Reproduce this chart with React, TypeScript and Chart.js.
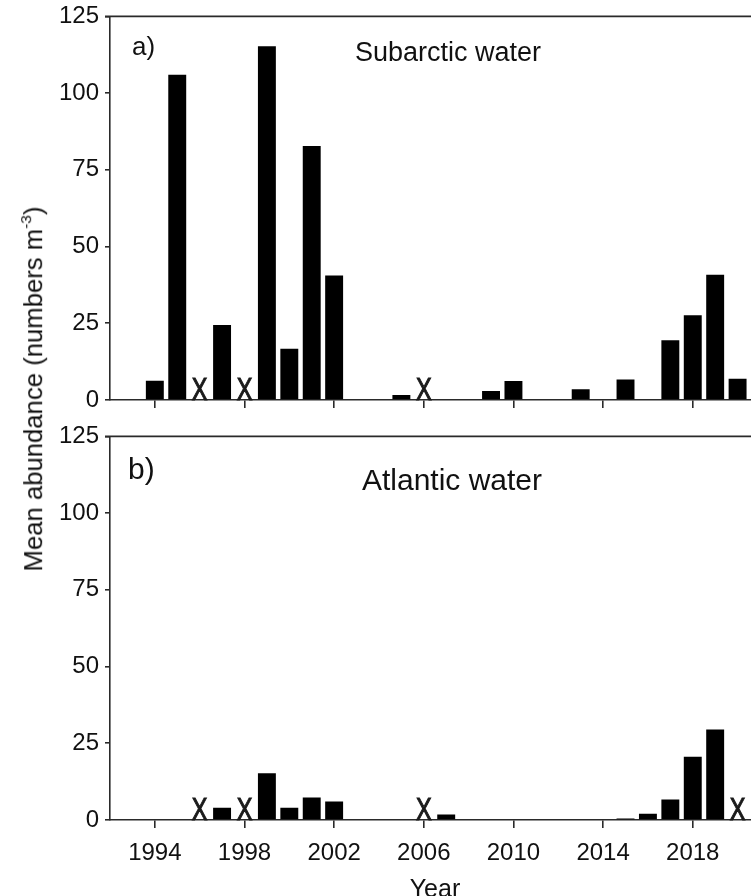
import React, { useEffect, useRef } from 'react';
import { Chart, registerables } from 'chart.js';

Chart.register(...registerables);

// ---- data ----
const YEAR_MIN = 1992;
const YEAR_MAX = 2021;
const X_TICKS = [1994, 1998, 2002, 2006, 2010, 2014, 2018];
const Y_TICKS = [0, 25, 50, 75, 100, 125];

const subarcticYears = [1994, 1995, 1997, 1999, 2000, 2001, 2002, 2005, 2009, 2010, 2013, 2015, 2017, 2018, 2019, 2020];
const subarcticValues = [6.3, 106, 24.4, 115.3, 16.7, 82.8, 40.6, 1.6, 2.9, 6.2, 3.5, 6.7, 19.5, 27.6, 40.8, 6.9];
const subarcticNotSampled = [1996, 1998, 2006];

const atlanticYears = [1997, 1999, 2000, 2001, 2002, 2007, 2015, 2016, 2017, 2018, 2019];
const atlanticValues = [4.0, 15.2, 4.0, 7.3, 6.0, 1.8, 0.5, 2.0, 6.7, 20.6, 29.5];
const atlanticNotSampled = [1996, 1998, 2006, 2020];

// ---- style ----
const FONT = "'Liberation Sans', Arial, Helvetica, sans-serif";
const AXIS = '#2a2a2a';
const TEXT = '#111111';

Chart.defaults.font.family = FONT;
Chart.defaults.color = TEXT;

// Frame top/right edge, panel letter, panel title and "X" for years without sampling
const panelDecor = {
  id: 'panelDecor',
  afterDatasetsDraw(chart: any, _args: any, opts: any) {
    const { ctx, chartArea, scales } = chart;
    const { left, right, top } = chartArea;
    const y0 = scales.y.getPixelForValue(0);
    ctx.save();
    ctx.strokeStyle = AXIS;
    ctx.lineWidth = 1.6;
    ctx.beginPath();
    ctx.moveTo(left - 5, top);
    ctx.lineTo(right, top);
    ctx.lineTo(right, y0);
    ctx.stroke();

    ctx.fillStyle = TEXT;
    ctx.textBaseline = 'alphabetic';
    ctx.textAlign = 'left';
    ctx.font = `${opts.letterSize}px ${FONT}`;
    ctx.fillText(opts.letter, left + opts.letterDx, top + opts.letterDy);

    ctx.textAlign = 'center';
    ctx.font = `${opts.titleSize}px ${FONT}`;
    ctx.fillText(opts.title, left + opts.titleDx, top + opts.titleDy);

    ctx.fillStyle = '#1a1a1a';
    ctx.strokeStyle = '#1a1a1a';
    ctx.lineWidth = 1.1;
    ctx.font = `31px ${FONT}`;
    for (const yr of opts.missing as number[]) {
      const px = scales.x.getPixelForValue(yr);
      ctx.save();
      ctx.translate(px, y0 - 0.5);
      ctx.scale(0.76, 1);
      ctx.fillText('X', 0, 0);
      ctx.strokeText('X', 0, 0);
      ctx.restore();
    }
    ctx.restore();
  },
};

type PanelProps = {
  years: number[];
  values: number[];
  missing: number[];
  letter: string;
  title: string;
  letterSize: number;
  titleSize: number;
  letterDx: number;
  letterDy: number;
  titleDx: number;
  titleDy: number;
  showXLabels: boolean;
  width: number;
  height: number;
  xAxisHeight: number;
};

function Panel(p: PanelProps) {
  const ref = useRef<HTMLCanvasElement | null>(null);

  useEffect(() => {
    if (!ref.current) return;
    const chart = new Chart(ref.current, {
      type: 'bar',
      data: {
        datasets: [
          {
            data: p.years.map((yr, i) => ({ x: yr, y: p.values[i] })),
            backgroundColor: '#000000',
            borderWidth: 0,
            categoryPercentage: 1,
            barPercentage: 0.8,
          },
        ],
      },
      options: {
        responsive: false,
        animation: false,
        events: [],
        layout: { padding: { top: 0, right: 20, bottom: 0, left: 0 } },
        plugins: {
          legend: { display: false },
          tooltip: { enabled: false },
          panelDecor: {
            letter: p.letter,
            title: p.title,
            letterSize: p.letterSize,
            titleSize: p.titleSize,
            letterDx: p.letterDx,
            letterDy: p.letterDy,
            titleDx: p.titleDx,
            titleDy: p.titleDy,
            missing: p.missing,
          },
        } as any,
        scales: {
          x: {
            type: 'linear',
            min: YEAR_MIN,
            max: YEAR_MAX,
            offset: false,
            afterBuildTicks: (scale: any) => {
              scale.ticks = X_TICKS.map((v) => ({ value: v }));
            },
            afterFit: (scale: any) => {
              scale.height = p.xAxisHeight;
            },
            grid: {
              offset: false,
              drawOnChartArea: false,
              drawTicks: true,
              tickLength: 8,
              color: AXIS,
              lineWidth: 1.6,
            },
            border: { display: true, color: AXIS, width: 1.6 },
            ticks: {
              autoSkip: false,
              maxRotation: 0,
              padding: 11,
              color: p.showXLabels ? TEXT : 'rgba(0,0,0,0)',
              font: { size: 24, family: FONT },
              callback: (v: any) => String(v),
            },
            title: {
              display: p.showXLabels,
              text: 'Year',
              color: TEXT,
              font: { size: 25, family: FONT },
              padding: { top: 0, bottom: 15 },
            },
          },
          y: {
            min: 0,
            max: 125,
            afterBuildTicks: (scale: any) => {
              scale.ticks = Y_TICKS.map((v) => ({ value: v }));
            },
            afterFit: (scale: any) => {
              scale.width = 110;
            },
            grid: {
              drawOnChartArea: false,
              drawTicks: true,
              tickLength: 5,
              color: AXIS,
              lineWidth: 1.6,
            },
            border: { display: true, color: AXIS, width: 1.6 },
            ticks: {
              padding: 6,
              color: TEXT,
              font: { size: 24, family: FONT },
              callback: (v: any) => String(v),
            },
          },
        },
      },
      plugins: [panelDecor],
    });
    return () => chart.destroy();
  }, []);

  return <canvas ref={ref} width={p.width} height={p.height} style={{ display: 'block' }} />;
}

export default function App() {
  return (
    <div
      style={{
        position: 'fixed',
        left: 0,
        top: 0,
        width: 751,
        height: 896,
        overflow: 'hidden',
        background: '#ffffff',
        fontFamily: FONT,
      }}
    >
      <div style={{ position: 'absolute', left: 0, top: -4 }}>
        <Panel
          years={subarcticYears}
          values={subarcticValues}
          missing={subarcticNotSampled}
          letter="a)"
          title="Subarctic water"
          letterSize={26}
          titleSize={27}
          letterDx={22}
          letterDy={39}
          titleDx={338}
          titleDy={45}
          showXLabels={false}
          width={780}
          height={430}
          xAxisHeight={26}
        />
      </div>
      <div style={{ position: 'absolute', left: 0, top: 416 }}>
        <Panel
          years={atlanticYears}
          values={atlanticValues}
          missing={atlanticNotSampled}
          letter="b)"
          title="Atlantic water"
          letterSize={30}
          titleSize={30}
          letterDx={18}
          letterDy={43}
          titleDx={342}
          titleDy={54}
          showXLabels={true}
          width={780}
          height={504}
          xAxisHeight={100}
        />
      </div>
      <div
        style={{
          position: 'absolute',
          left: 34,
          top: 389,
          transform: 'translate(-50%, -50%) rotate(-90deg)',
          whiteSpace: 'nowrap',
          fontSize: 25.7,
          lineHeight: 1,
          color: TEXT,
        }}
      >
        Mean abundance (numbers m
        <span style={{ fontSize: 15.5, position: 'relative', top: -11 }}>-3</span>)
      </div>
    </div>
  );
}
